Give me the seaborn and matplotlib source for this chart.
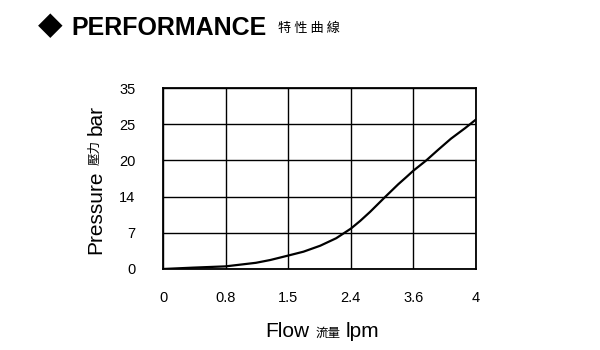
import numpy as np
import pandas as pd
import matplotlib
matplotlib.use("Agg")
import matplotlib.pyplot as plt
import seaborn as sns

# ---- data ----
x_ticks = [0, 0.8, 1.5, 2.4, 3.6, 4]
y_ticks = [0, 7, 14, 20, 25, 35]
flow = [0, 0.38, 0.8, 1.14, 1.30, 1.5, 1.72, 1.96, 2.19, 2.4, 2.58, 2.77,
        3.06, 3.31, 3.46, 3.6, 3.68, 3.76, 3.84, 3.93, 4.0]
pressure = [0, 0.26, 0.51, 1.2, 1.74, 2.6, 3.35, 4.5, 5.95, 7.8, 9.3, 11.05,
            13.95, 16.05, 17.2, 18.3, 19.95, 21.5, 23.0, 24.45, 26.3]

df = pd.DataFrame({"flow": flow, "pressure": pressure})

sns.set_theme(style="white")
plt.rcParams["font.family"] = ["Liberation Sans", "Noto Sans CJK TC", "DejaVu Sans"]

fig = plt.figure(figsize=(6, 3.5), dpi=100)
ax = fig.add_axes([163/600, 1-269/350, (476-163)/600, (269-88)/350])

sns.lineplot(data=df, x="flow", y="pressure", ax=ax, color="black", lw=1.6)

xpos = np.arange(len(x_ticks), dtype=float)
ypos = np.arange(len(y_ticks), dtype=float)
ax.set_xscale("function", functions=(lambda v: np.interp(v, x_ticks, xpos),
                                     lambda p: np.interp(p, xpos, x_ticks)))
ax.set_yscale("function", functions=(lambda v: np.interp(v, y_ticks, ypos),
                                     lambda p: np.interp(p, ypos, y_ticks)))
ax.set_xlim(0, 4)
ax.set_ylim(0, 35)
ax.set_xticks(x_ticks)
ax.set_xticklabels([f"{v:g}" for v in x_ticks])
ax.set_yticks(y_ticks)
ax.set_yticklabels([f"{v:g}" for v in y_ticks])
ax.minorticks_off()
ax.grid(True, color="black", lw=1.0)
for s in ax.spines.values():
    s.set_color("black")
    s.set_linewidth(1.3)
ax.tick_params(axis="both", length=0, labelsize=10.5, colors="black")
ax.tick_params(axis="x", pad=16)
ax.tick_params(axis="y", pad=20)
ax.set_xlabel("")
ax.set_ylabel("")

# title
fig.text(38/600, 1-26/350, "\u25c6", fontsize=23, family="DejaVu Sans",
         ha="left", va="center", color="black")
fig.text(71/600, 1-35/350, "PERFORMANCE", fontsize=18, fontweight="bold",
         family="Liberation Sans", ha="left", va="baseline", color="black")
fig.text(278/600, 1-28.5/350, "特 性 曲 線", fontsize=9.5,
         family=["Noto Sans CJK TC", "DejaVu Sans"], ha="left", va="center",
         color="black")

# x label pieces
fig.text(309/600, 1-337/350, "Flow", fontsize=15, family="Liberation Sans",
         ha="right", va="baseline", color="black")
fig.text(328/600, 1-337/350, "流量", fontsize=9,
         family=["Noto Sans CJK TC", "DejaVu Sans"], ha="center", va="baseline",
         color="black")
fig.text(346/600, 1-337/350, "lpm", fontsize=15, family="Liberation Sans",
         ha="left", va="baseline", color="black")

# y label pieces (rotated)
fig.text(96/600, 1-170/350, "Pressure", fontsize=15, family="Liberation Sans",
         rotation=90, ha="center", va="top", color="black")
fig.text(95/600, 1-152.5/350, "壓力", fontsize=9,
         family=["Noto Sans CJK TC", "DejaVu Sans"], rotation=90,
         ha="center", va="center", color="black")
fig.text(96/600, 1-135/350, "bar", fontsize=15, family="Liberation Sans",
         rotation=90, ha="center", va="bottom", color="black")

fig.savefig("out.png", dpi=100)
